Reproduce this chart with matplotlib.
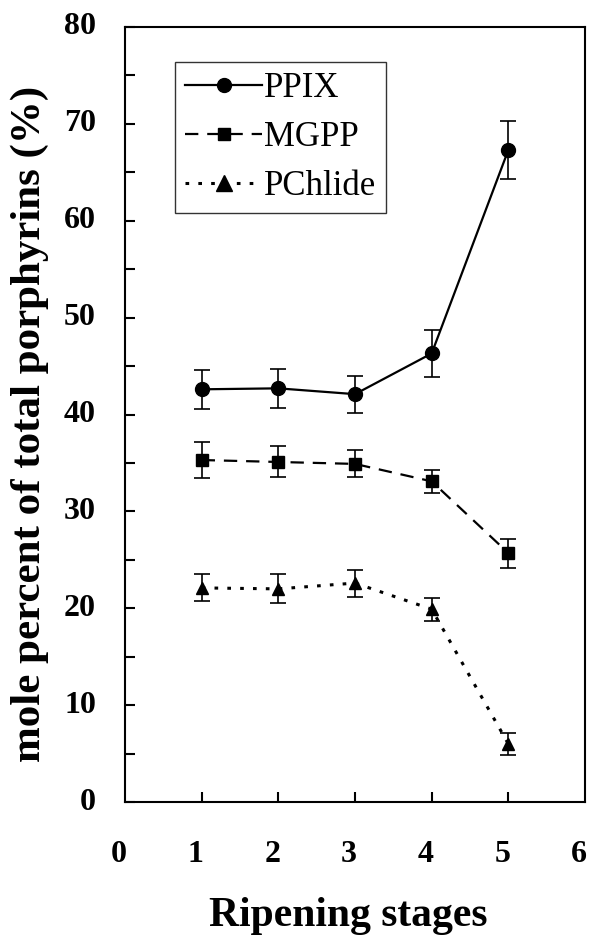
import matplotlib
matplotlib.use("Agg")
import matplotlib.pyplot as plt
from matplotlib.ticker import MultipleLocator, FixedLocator
from matplotlib.lines import Line2D

stages = [1, 2, 3, 4, 5]
ppix = [42.6, 42.7, 42.1, 46.3, 67.3]
ppix_err = [2.0, 2.0, 1.9, 2.4, 3.0]
mgpp = [35.3, 35.1, 34.9, 33.1, 25.7]
mgpp_err = [1.9, 1.6, 1.4, 1.2, 1.5]
pchlide = [22.1, 22.0, 22.6, 19.9, 6.0]
pchlide_err = [1.4, 1.5, 1.4, 1.2, 1.1]
xticks = [0, 1, 2, 3, 4, 5, 6]
yticks = [0, 10, 20, 30, 40, 50, 60, 70, 80]

plt.rcParams['font.family'] = ['Liberation Serif', 'DejaVu Serif']

fig = plt.figure(figsize=(5.89, 9.42), dpi=100)
ax = fig.add_axes([125/589, 1 - 802/942, 460/589, 775/942])

styles = {
    'PPIX': dict(marker='o', ms=10, linestyle='-', lw=1.6),
    'MGPP': dict(marker='s', ms=8, linestyle=(0, (6, 4)), lw=1.6),
    'PChlide': dict(marker='^', ms=9, linestyle=(0, (1.2, 3)), lw=2.2),
}
series = [('PPIX', ppix, ppix_err), ('MGPP', mgpp, mgpp_err), ('PChlide', pchlide, pchlide_err)]
handles = []
for name, vals, errs in series:
    st = styles[name]
    ax.errorbar(stages, vals, yerr=errs, color='black', ecolor='black', elinewidth=1.2,
                capsize=6, capthick=1.2, **st)
    hst = dict(st)
    if name == 'PChlide':
        hst['ms'] = 11
    handles.append(Line2D([], [], color='black', **hst))

ax.set_xlim(0, 6)
ax.set_ylim(0, 80)
ax.xaxis.set_major_locator(FixedLocator([1, 2, 3, 4, 5]))
ax.yaxis.set_major_locator(MultipleLocator(5))

for s in ax.spines.values():
    s.set_linewidth(1.5)

ax.tick_params(axis='both', direction='in', length=7, width=1.5)
ax.set_yticklabels([])
ax.set_xticklabels([])

# tick labels as real text (bold)
for v in yticks:
    ax.text(-0.063, v, str(v), transform=ax.get_yaxis_transform(), ha='right', va='center',
            fontsize=23, fontweight='bold')
for v in xticks:
    ax.text(v - 0.08, -0.068, str(v), transform=ax.get_xaxis_transform(), ha='center', va='center',
            fontsize=23, fontweight='bold')

fig.text(348/589, 1 - 916/942, 'Ripening stages', ha='center', va='center', fontsize=30, fontweight='bold')
fig.text(30/589, 1 - 424/942, 'mole percent of total porphyrins (%)', ha='center', va='center',
         rotation=90, fontsize=31, fontweight='bold')

leg = ax.legend(handles, [n for n, _, _ in series], loc='upper left',
                bbox_to_anchor=((175 - 125) / 460, (802 - 62) / 775),
                borderaxespad=0, fontsize=25, handlelength=2.2, handletextpad=0.05,
                labelspacing=0.45, borderpad=0.3, fancybox=False, frameon=True)
leg.get_frame().set_edgecolor('black')
leg.get_frame().set_linewidth(1.0)

fig.savefig('out.png', dpi=100, facecolor='white')
